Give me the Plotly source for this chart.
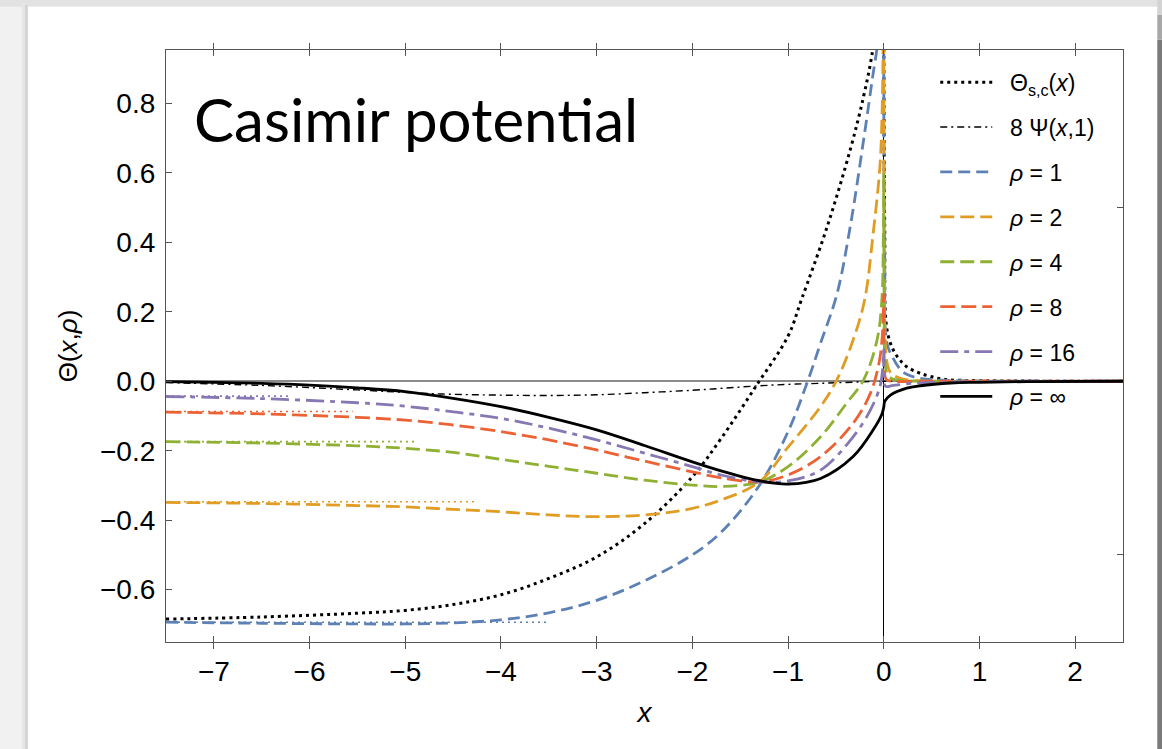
import plotly.graph_objects as go

# ---------------- data ----------------
THETA_SC_X = [-7.5, -6.5, -5.5, -5.0, -4.5, -4.0, -3.5, -3.0, -2.5, -2.0, -1.7, -1.33, -1.0, -0.86,
              -0.59, -0.35, -0.21, -0.12, -0.06, None,
              0.0, 0.01, 0.033, 0.1, 0.17, 0.24, 0.38, 0.62, 1.0, 1.5, 2.5]
THETA_SC_Y = [-0.685, -0.679, -0.668, -0.660, -0.643, -0.615, -0.568, -0.506, -0.41, -0.275, -0.165, -0.012,
              0.13, 0.235, 0.446, 0.667, 0.821, 0.946, 1.08, None,
              1.2, 0.45, 0.15, 0.09, 0.061, 0.042, 0.023, 0.006, 0.002, 0.0005, 0.0]

PSI_X = [-7.5, -6.5, -5.5, -4.7, -4.0, -3.5, -3.0, -2.5, -2.0, -1.67, -1.33, -1.0, -0.66, -0.25, 0.0,
         0.5, 1.0, 2.5]
PSI_Y = [-0.004, -0.012, -0.025, -0.036, -0.040, -0.041, -0.039, -0.033, -0.026, -0.020, -0.0136,
         -0.009, -0.006, -0.002, 0.0, 0.001, 0.0, 0.0]

RHO1_X = [-7.5, -6.5, -5.5, -5.0, -4.5, -4.0, -3.5, -3.0, -2.5, -2.0, -1.7, -1.3, -1.0, -0.79, -0.66,
          -0.49, -0.35, -0.21, -0.11, -0.07, -0.04, None,
          0.0, 0.01, 0.033, 0.1, 0.17, 0.24, 0.38, 0.6, 1.0, 1.5, 2.5]
RHO1_Y = [-0.694, -0.697, -0.699, -0.699, -0.696, -0.687, -0.667, -0.631, -0.575, -0.50, -0.435, -0.30,
          -0.145, 0.004, 0.11, 0.25, 0.446, 0.696, 0.888, 0.96, 1.05, None,
          1.1, 0.35, 0.11, 0.065, 0.035, 0.02, 0.008, 0.003, 0.001, 0.0, 0.0]

RHO2_X = [-7.5, -6.5, -5.5, -5.0, -4.5, -4.0, -3.5, -3.0, -2.4, -2.0, -1.7, -1.3, -1.0, -0.66, -0.49,
          -0.32, -0.2, -0.11, -0.04, -0.015, -0.005, None,
          0.0, 0.005, 0.015, 0.03, 0.06, 0.1, 0.2, 0.4, 1.0, 2.5]
RHO2_Y = [-0.349, -0.352, -0.358, -0.362, -0.369, -0.376, -0.385, -0.390, -0.383, -0.366, -0.342, -0.29,
          -0.19, -0.073, 0.004, 0.119, 0.234, 0.427, 0.619, 0.8, 1.05, None,
          1.1, 0.4, 0.12, 0.06, 0.03, 0.018, 0.006, 0.001, 0.0, 0.0]

RHO4_X = [-7.5, -6.5, -5.5, -5.0, -4.5, -4.0, -3.5, -3.0, -2.5, -2.0, -1.7, -1.3, -1.0, -0.66, -0.39,
          -0.21, -0.07, -0.02, -0.005, 0.0, 0.003, 0.01, 0.03, 0.08, 0.2, 0.5, 2.5]
RHO4_Y = [-0.174, -0.178, -0.186, -0.193, -0.205, -0.225, -0.245, -0.265, -0.285, -0.299, -0.303, -0.29,
          -0.246, -0.160, -0.064, 0.004, 0.119, 0.234, 0.4, 0.6, 0.25, 0.08, 0.025, 0.008, 0.002, 0.0, 0.0]

RHO8_X = [-7.5, -6.5, -5.5, -5.0, -4.5, -4.0, -3.5, -3.0, -2.5, -2.0, -1.7, -1.3, -1.0, -0.66, -0.32,
          -0.14, -0.05, -0.015, 0.0, 0.003, 0.01, 0.03, 0.1, 0.5, 2.5]
RHO8_Y = [-0.089, -0.094, -0.104, -0.112, -0.126, -0.145, -0.169, -0.198, -0.230, -0.261, -0.278, -0.29,
          -0.270, -0.217, -0.121, -0.035, 0.052, 0.13, 0.25, 0.08, 0.02, 0.004, 0.0, 0.0, 0.0]

RHO16_X = [-7.5, -6.5, -5.5, -5.0, -4.5, -4.0, -3.5, -3.0, -2.5, -2.0, -1.7, -1.3, -1.0, -0.66, -0.32,
           -0.14, -0.04, -0.01, 0.0, 0.004, 0.02, 0.1, 0.3, 1.0, 2.5]
RHO16_Y = [-0.044, -0.050, -0.062, -0.072, -0.088, -0.107, -0.135, -0.169, -0.207, -0.246, -0.270, -0.29,
           -0.287, -0.256, -0.160, -0.083, -0.016, 0.04, 0.09, 0.0, -0.015, -0.012, -0.006, -0.001, 0.0]

RHOINF_X = [-7.5, -7.0, -6.5, -6.0, -5.5, -5.0, -4.5, -4.0, -3.5, -3.0, -2.5, -2.0, -1.7, -1.35, -1.0,
            -0.66, -0.32, -0.11, -0.02, 0.0, 0.01, 0.07, 0.24, 0.38, 0.7, 1.0, 1.5, 2.5]
RHOINF_Y = [-0.001, -0.003, -0.006, -0.011, -0.019, -0.030, -0.049, -0.073, -0.104, -0.140, -0.185,
            -0.232, -0.258, -0.284, -0.296, -0.280, -0.217, -0.140, -0.095, -0.075, -0.058, -0.040,
            -0.020, -0.013, -0.005, -0.003, -0.001, 0.0]

# asymptotic (x -> -inf) values and the x where each thin dotted guide ends
ASYM_LEVEL = [-0.694, -0.347, -0.174, -0.087, -0.043]
ASYM_END_X = [-3.49, -4.24, -4.90, -5.55, -6.21]
ASYM_START_X = -7.5

X_TICKS = [-7, -6, -5, -4, -3, -2, -1, 0, 1, 2]
Y_TICKS = [-0.6, -0.4, -0.2, 0.0, 0.2, 0.4, 0.6, 0.8]
Y_RIGHT_TICKS = [-0.5, 0.5]

LABELS = ["Θ<sub>s,c</sub>(<i>x</i>)", "8 Ψ(<i>x</i>,1)", "<i>ρ</i> = 1", "<i>ρ</i> = 2",
          "<i>ρ</i> = 4", "<i>ρ</i> = 8", "<i>ρ</i> = 16", "<i>ρ</i> = ∞"]

# ---------------- styles ----------------
BLUE, ORANGE, GREEN, RED, PURPLE = "#5E81B5", "#E19C24", "#8FB032", "#EB6235", "#8778B3"
SERIES_COLORS = [BLUE, ORANGE, GREEN, RED, PURPLE]
FONT = "Liberation Sans, Arial, Helvetica, sans-serif"
PAD = "\u00a0\u00a0"

fig = go.Figure()

# thin dotted asymptote guides (last one drawn on the right-hand frame axis, same scale)
for i, (lvl, xe, c) in enumerate(zip(ASYM_LEVEL, ASYM_END_X, SERIES_COLORS)):
    fig.add_trace(go.Scatter(x=[ASYM_START_X, xe], y=[lvl, lvl], mode="lines",
                             yaxis="y2" if i == len(ASYM_LEVEL) - 1 else "y",
                             line=dict(color=c, width=1.6, dash="2px,4px"),
                             showlegend=False, hoverinfo="skip"))

series = [
    (PSI_X, PSI_Y, dict(color="black", width=1.4, dash="7px,4px,2px,4px"), LABELS[1]),
    (THETA_SC_X, THETA_SC_Y, dict(color="black", width=3, dash="3px,4px"), LABELS[0]),
    (RHO1_X, RHO1_Y, dict(color=BLUE, width=2.8, dash="12px,6px"), LABELS[2]),
    (RHO2_X, RHO2_Y, dict(color=ORANGE, width=2.8, dash="14px,6px"), LABELS[3]),
    (RHO4_X, RHO4_Y, dict(color=GREEN, width=2.8, dash="14px,6px"), LABELS[4]),
    (RHO8_X, RHO8_Y, dict(color=RED, width=2.8, dash="15px,6px"), LABELS[5]),
    (RHO16_X, RHO16_Y, dict(color=PURPLE, width=2.8, dash="18px,6px,5px,6px"), LABELS[6]),
    (RHOINF_X, RHOINF_Y, dict(color="black", width=2.8), LABELS[7]),
]
for xs, ys, ln, lab in series:
    rank = LABELS.index(lab)
    ln = dict(ln, shape="spline", smoothing=1.0)
    fig.add_trace(go.Scatter(x=xs, y=ys, mode="lines", line=ln, name=PAD + lab,
                             legendgroup=lab, legendrank=rank + 1, connectgaps=False))

# ---------------- layout ----------------
W, H = 1162, 749
L, R, T, B = 166, 39.3, 50.3, 107.3
PW, PH = W - L - R, H - T - B


def px(xp):
    return (xp - L) / PW


def py(yp):
    return (H - B - yp) / PH


shapes = [
    # slide (white) on grey desk, with soft shadow edges
    dict(type="rect", xref="paper", yref="paper", x0=px(0), x1=px(W), y0=py(H + 5), y1=py(-5),
         fillcolor="#f1f1f1", line_width=0, layer="below"),
    dict(type="rect", xref="paper", yref="paper", x0=px(0), x1=px(W), y0=py(7), y1=py(-5),
         fillcolor="#e2e2e2", line_width=0, layer="below"),
    dict(type="rect", xref="paper", yref="paper", x0=px(22), x1=px(28), y0=py(H + 5), y1=py(3),
         fillcolor="#e6e6e6", line_width=0, layer="below"),
    dict(type="rect", xref="paper", yref="paper", x0=px(25), x1=px(28), y0=py(H + 5), y1=py(5),
         fillcolor="#d6d6d6", line_width=0, layer="below"),
    dict(type="rect", xref="paper", yref="paper", x0=px(28), x1=px(1157), y0=py(H + 5), y1=py(7),
         fillcolor="white", line_width=0, layer="below"),
    dict(type="rect", xref="paper", yref="paper", x0=px(1157), x1=px(W + 2), y0=py(H + 5), y1=py(40),
         fillcolor="#7a7a7a", line_width=0, layer="below"),
    dict(type="rect", xref="paper", yref="paper", x0=px(1157), x1=px(W + 2), y0=py(40), y1=py(15),
         fillcolor="#a8a8a8", line_width=0, layer="below"),
    dict(type="rect", xref="paper", yref="paper", x0=px(1157), x1=px(W + 2), y0=py(15), y1=py(-5),
         fillcolor="#d4d4d4", line_width=0, layer="below"),
]

fig.update_layout(
    width=W, height=H,
    margin=dict(l=L, r=R, t=T, b=B, pad=0),
    paper_bgcolor="#f1f1f1",
    plot_bgcolor="white",
    font=dict(family=FONT, color="black"),
    shapes=shapes,
    showlegend=True,
    legend=dict(x=px(935), y=py(61), xanchor="left", yanchor="top",
                bgcolor="rgba(0,0,0,0)", borderwidth=0,
                font=dict(family=FONT, size=23, color="black"),
                tracegroupgap=12, itemwidth=52, traceorder="grouped"),
    annotations=[
        dict(text="Casimir potential", xref="paper", yref="paper", x=px(192), y=py(119),
             xanchor="left", yanchor="middle", showarrow=False,
             font=dict(family="Lato, Noto Sans, sans-serif", size=60, color="black")),
    ],
    xaxis=dict(range=[-7.5, 2.5], tickvals=X_TICKS, ticks="inside", ticklen=6, tickwidth=1,
               tickcolor="#555", showline=True, linecolor="#555", linewidth=1.2, mirror="allticks",
               showgrid=False, zeroline=True, zerolinecolor="black", zerolinewidth=1,
               tickfont=dict(family=FONT, size=28), ticklabelstandoff=4,
               title=dict(text="<i>x</i>", font=dict(family=FONT, size=28), standoff=16)),
    yaxis=dict(range=[-0.751, 0.954], tickvals=Y_TICKS, tickformat=".1f", ticks="inside", ticklen=6,
               tickwidth=1, tickcolor="#555", showline=True, linecolor="#555", linewidth=1.2,
               mirror=True, showgrid=False, zeroline=True, zerolinecolor="#8a8a8a", zerolinewidth=1.6,
               tickfont=dict(family=FONT, size=28), ticklabelstandoff=4,
               title=dict(text="Θ(<i>x</i>,<i>ρ</i>)", font=dict(family=FONT, size=26), standoff=14)),
    yaxis2=dict(range=[-0.751, 0.954], overlaying="y", side="right", tickvals=Y_RIGHT_TICKS,
                ticks="inside", ticklen=6, tickwidth=1, tickcolor="#555", showticklabels=False,
                showgrid=False, zeroline=False, showline=False),
)

fig.write_html("out.html")
